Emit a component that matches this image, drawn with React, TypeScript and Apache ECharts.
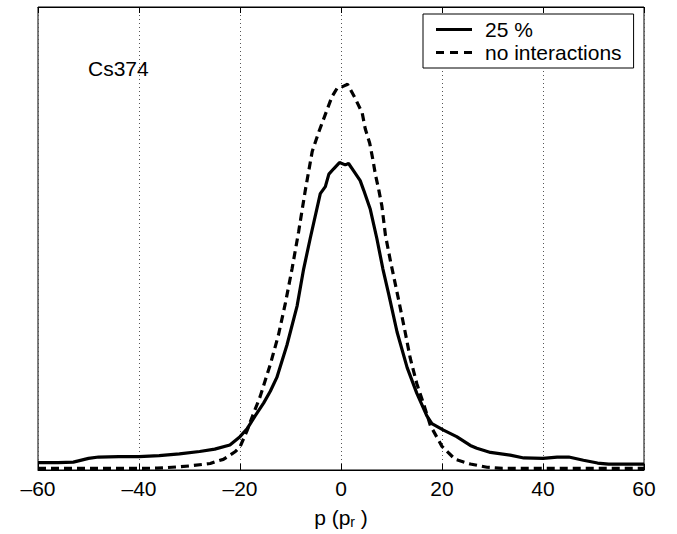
import React, { useEffect, useRef } from "react";
import * as echarts from "echarts";

const xTicks = [-60, -40, -20, 0, 20, 40, 60];
const seriesNames = ["25 %", "no interactions"];
const annotation = "Cs374";

const solidX = [-60, -56, -53, -50, -48, -44, -40, -36, -32, -28, -25, -22, -20, -18.6, -17, -15.3, -14, -12.7, -10.7, -8.7, -7.4, -6.1, -4.1, -3.1, -2.4, -1.5, -0.3, 0.85, 1.5, 2.5, 3.8, 4.5, 5.8, 7.1, 8.3, 9.4, 11.1, 13.1, 15, 17, 18, 20.3, 22.9, 25.6, 26.9, 29.6, 33.5, 36.2, 40, 42.8, 45.1, 48, 50.8, 53, 56, 60];
const solidY = [0.016, 0.016, 0.017, 0.025, 0.028, 0.029, 0.029, 0.031, 0.035, 0.04, 0.045, 0.054, 0.072, 0.089, 0.117, 0.145, 0.17, 0.2, 0.27, 0.354, 0.434, 0.5, 0.597, 0.612, 0.639, 0.65, 0.664, 0.659, 0.662, 0.646, 0.625, 0.604, 0.563, 0.5, 0.434, 0.382, 0.298, 0.221, 0.166, 0.117, 0.1, 0.086, 0.072, 0.053, 0.047, 0.038, 0.032, 0.026, 0.025, 0.028, 0.028, 0.021, 0.015, 0.0125, 0.0125, 0.0125];

const dashX = [-60, -40, -36.4, -31.8, -29.8, -25.9, -24.6, -23.3, -20.9, -20, -18.6, -18, -16, -14, -12.4, -11, -9.7, -8.4, -7.07, -5.7, -4.4, -3.1, -1.8, -0.8, 0.3, 1.3, 2.8, 4.2, 4.8, 5.7, 6.3, 6.8, 7.5, 8.1, 8.8, 9.8, 11.4, 12.7, 13.7, 15, 16.5, 17.7, 20, 22.6, 25.6, 28.9, 32, 60];
const dashY = [0.0035, 0.0035, 0.004, 0.007, 0.009, 0.014, 0.019, 0.023, 0.04, 0.05, 0.085, 0.103, 0.159, 0.228, 0.291, 0.361, 0.434, 0.514, 0.604, 0.688, 0.73, 0.768, 0.806, 0.824, 0.828, 0.833, 0.803, 0.771, 0.737, 0.705, 0.671, 0.639, 0.604, 0.57, 0.507, 0.451, 0.368, 0.298, 0.242, 0.187, 0.138, 0.096, 0.051, 0.023, 0.013, 0.006, 0.0035, 0.0035];

const FONT = "'Liberation Sans', Arial, Helvetica, sans-serif";
const SOLID_ICON = "path://M0,0h36v3h-36z";
const DASH_ICON = "path://M0,0h8v3h-8zM14,0h8v3h-8zM28,0h8v3h-8z";

export default function App() {
  const ref = useRef<HTMLDivElement>(null);
  useEffect(() => {
    if (!ref.current) return;
    const chart = echarts.init(ref.current, undefined, { renderer: "svg" });
    const fmt = (v: number) => String(v).replace("-", "\u2013");
    chart.setOption({
      animation: false,
      backgroundColor: "#fff",
      textStyle: { fontFamily: FONT, color: "#000" },
      grid: {
        left: 38,
        right: 33,
        top: 7,
        bottom: 48,
        show: true,
        borderColor: "#000",
        borderWidth: 1,
        backgroundColor: "transparent",
      },
      legend: {
        orient: "vertical",
        left: 423,
        top: 14,
        padding: [5, 12, 5, 13],
        itemWidth: 36,
        itemHeight: 3,
        itemGap: 2,
        borderColor: "#000",
        borderWidth: 1,
        backgroundColor: "#fff",
        symbolKeepAspect: false,
        textStyle: { fontSize: 21, fontFamily: FONT, color: "#000", padding: [0, 0, 0, 8] },
        data: [
          { name: seriesNames[0], icon: SOLID_ICON, itemStyle: { color: "#000" } },
          { name: seriesNames[1], icon: DASH_ICON, itemStyle: { color: "#000" } },
        ],
      },
      xAxis: [
        {
          type: "value",
          min: xTicks[0],
          max: xTicks[xTicks.length - 1],
          interval: 20,
          axisLine: { show: true, lineStyle: { color: "#000", width: 1 } },
          axisTick: { show: true, inside: true, length: 6, lineStyle: { color: "#000" } },
          axisLabel: {
            fontSize: 21,
            fontFamily: FONT,
            color: "#000",
            margin: 8,
            formatter: fmt,
          },
          splitLine: { show: true, lineStyle: { color: "#555", type: [1, 3], width: 1 } },
          name: "p (p{sub|r} )",
          nameLocation: "middle",
          nameGap: 35,
          nameTextStyle: {
            fontSize: 21,
            fontFamily: FONT,
            color: "#000",
            rich: {
              sub: { fontSize: 14, fontFamily: FONT, color: "#000", verticalAlign: "bottom", padding: [10, 0, 0, 0] },
            },
          },
        },
        {
          type: "value",
          position: "top",
          min: xTicks[0],
          max: xTicks[xTicks.length - 1],
          interval: 20,
          axisLine: { show: true, lineStyle: { color: "#000", width: 1 } },
          axisTick: { show: true, inside: true, length: 6, lineStyle: { color: "#000" } },
          axisLabel: { show: false },
          splitLine: { show: false },
        },
      ],
      yAxis: {
        type: "value",
        min: 0,
        max: 1,
        axisLine: { show: false },
        axisTick: { show: false },
        axisLabel: { show: false },
        splitLine: { show: false },
      },
      graphic: [
        {
          type: "text",
          left: 88,
          top: 58,
          style: { text: annotation, fontSize: 21, fontFamily: FONT, fill: "#000" },
        },
      ],
      series: [
        {
          name: seriesNames[0],
          type: "line",
          symbol: "none",
          data: solidX.map((x, i) => [x, solidY[i]]),
          lineStyle: { color: "#000", width: 3.2, type: "solid" },
          itemStyle: { color: "#000" },
          z: 3,
        },
        {
          name: seriesNames[1],
          type: "line",
          symbol: "none",
          data: dashX.map((x, i) => [x, dashY[i]]),
          lineStyle: { color: "#000", width: 3.2, type: [8, 5] },
          itemStyle: { color: "#000" },
          z: 2,
        },
      ],
    });
    return () => chart.dispose();
  }, []);
  return <div ref={ref} style={{ width: 677, height: 534, position: "absolute", left: 0, top: 0 }} />;
}
